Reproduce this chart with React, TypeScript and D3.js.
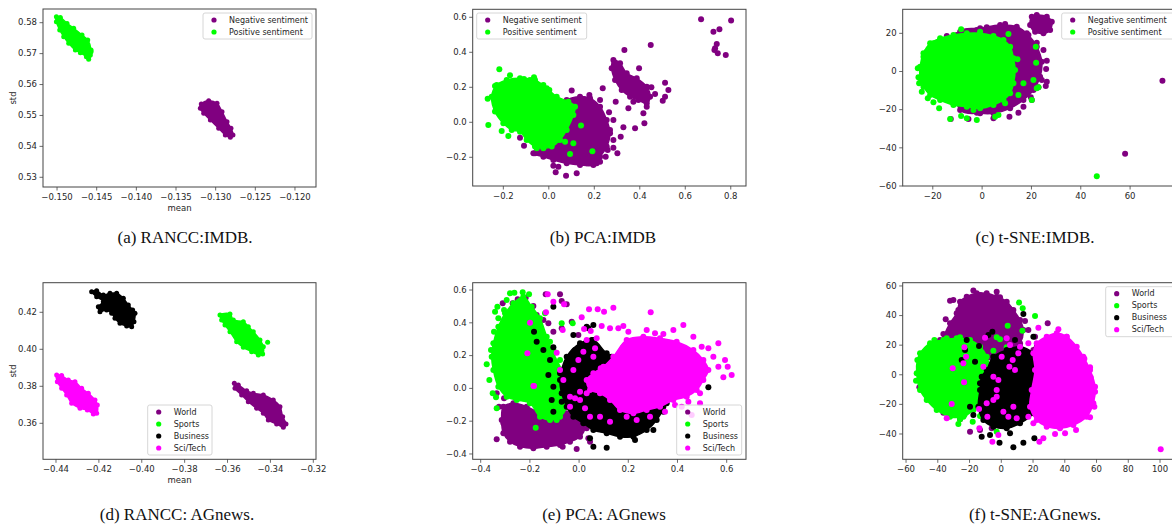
import React from 'react';
import * as d3 from 'd3';

type P = [number, number];

const imdbClasses = ['Negative sentiment', 'Positive sentiment'];
const agClasses = ['World', 'Sports', 'Business', 'Sci/Tech'];
const imdbColors = ['purple', 'lime'];
const agColors = ['purple', 'lime', 'black', 'magenta'];

const captions = [
  '(a) RANCC:IMDB.',
  '(b) PCA:IMDB',
  '(c) t-SNE:IMDB.',
  '(d) RANCC: AGnews.',
  '(e) PCA: AGnews',
  '(f) t-SNE:AGnews.',
];

// tick values
const aXTicks = [-0.15, -0.145, -0.14, -0.135, -0.13, -0.125, -0.12];
const aYTicks = [0.53, 0.54, 0.55, 0.56, 0.57, 0.58];
const bXTicks = [-0.2, 0, 0.2, 0.4, 0.6, 0.8];
const bYTicks = [-0.2, 0, 0.2, 0.4, 0.6];
const cXTicks = [-20, 0, 20, 40, 60];
const cYTicks = [-60, -40, -20, 0, 20];
const dXTicks = [-0.44, -0.42, -0.4, -0.38, -0.36, -0.34, -0.32];
const dYTicks = [0.36, 0.38, 0.4, 0.42];
const eXTicks = [-0.4, -0.2, 0, 0.2, 0.4, 0.6];
const eYTicks = [-0.4, -0.2, 0, 0.2, 0.4, 0.6];
const fXTicks = [-60, -40, -20, 0, 20, 40, 60, 80, 100];
const fYTicks = [-40, -20, 0, 20, 40, 60];

// (a) RANCC IMDB : (mean, std)
const aNegCore: P[] = [
  [-0.13181, 0.55371], [-0.13088, 0.55478], [-0.12983, 0.55392], [-0.1292, 0.55123],
  [-0.12857, 0.548], [-0.12807, 0.54584], [-0.12782, 0.54369], [-0.12815, 0.54293],
  [-0.12878, 0.54369], [-0.12962, 0.54584], [-0.13067, 0.54853], [-0.13151, 0.55069],
  [-0.13193, 0.55231],
];
const aNegPts: P[] = [[-0.12807, 0.54369], [-0.13172, 0.55306]];
const aPosCore: P[] = [
  [-0.15008, 0.58194], [-0.14958, 0.58172], [-0.14874, 0.57978], [-0.1479, 0.57817],
  [-0.14685, 0.57601], [-0.14613, 0.5744], [-0.14571, 0.57116], [-0.1458, 0.56955],
  [-0.14601, 0.56815], [-0.1463, 0.56901], [-0.14706, 0.5703], [-0.14769, 0.57116],
  [-0.14853, 0.57332], [-0.14916, 0.57547], [-0.14966, 0.57763], [-0.15008, 0.58032],
];
const aPosPts: P[] = [[-0.14992, 0.5814], [-0.14601, 0.56879], [-0.14571, 0.57063]];

// (b) PCA IMDB
const bNegCore: P[] = [
  [-0.068, -0.1771], [-0.0387, -0.139], [0.0199, 0.0514], [0.0786, 0.1276], [0.1372, 0.1467],
  [0.1812, 0.1371], [0.2252, 0.0895], [0.2545, 0.0133], [0.2692, -0.0629], [0.2545, -0.139],
  [0.2252, -0.1962], [0.1959, -0.2438], [0.1372, -0.2438], [0.0786, -0.2343], [0.0199, -0.2152],
  [-0.024, -0.1962],
];
const bNegArm: P[] = [
  [0.2765, 0.3086], [0.2839, 0.3562], [0.3132, 0.3371], [0.3425, 0.28], [0.3865, 0.2514],
  [0.4305, 0.2038], [0.4452, 0.1467], [0.4305, 0.1086], [0.3938, 0.1276], [0.3572, 0.1467],
  [0.3205, 0.1848], [0.2912, 0.2419],
];
const bNegPts: P[] = [
  [0.6695, 0.5886], [0.8015, 0.581], [0.7238, 0.5181], [0.7501, 0.5314], [0.7311, 0.4229],
  [0.7384, 0.4476], [0.7428, 0.3943], [0.778, 0.3848], [0.7282, 0.4133], [0.3323, 0.4133],
  [0.4481, 0.4419], [0.3968, 0.3086], [0.5111, 0.2267], [0.5258, 0.1848], [0.5111, 0.1467],
  [0.5009, 0.1238], [0.4672, 0.1619], [0.451, 0.2], [0.4202, -0.0057], [0.3792, -0.0343],
  [0.3279, -0.0286], [0.3161, -0.0819], [0.2941, 0.1181], [0.237, 0.1943], [0.1006, 0.181],
  [0.1783, 0.1562], [0.149, 0.1333], [0.2648, 0.0571], [0.2839, 0.0133], [0.2839, -0.1448],
  [0.3015, -0.1771], [0.2589, -0.1581], [0.2106, -0.2343], [0.1666, -0.2343], [0.0757, -0.3048],
  [0.0302, -0.2857], [0.0419, -0.2533], [0.0199, -0.2476], [-0.0607, -0.1771], [-0.1091, -0.1333],
  [-0.1267, -0.0876], [0.1226, -0.2914], [0.3718, 0.1181], [0.4158, 0.0514], [0.3499, 0.08],
  [0.4305, 0.0895], [0.3499, 0.2133], [0.1959, 0.08], [0.2252, 0.1276], [0.2839, -0.101],
  [0.2692, -0.0438], [0.2501, -0.1962], [0.2252, -0.2248], [0.1959, -0.2114],
];
const bPosCore: P[] = [
  [-0.2513, 0.1467], [-0.2293, 0.2133], [-0.1853, 0.2419], [-0.1267, 0.2514], [-0.0607, 0.2419],
  [-0.0094, 0.1943], [0.0346, 0.1467], [0.0859, 0.1181], [0.1152, 0.0895], [0.1079, 0.0419],
  [0.0786, -0.0438], [0.0493, -0.101], [0.0126, -0.139], [-0.024, -0.1486], [-0.0607, -0.139],
  [-0.0974, -0.101], [-0.1267, -0.0533], [-0.1633, -0.0438], [-0.2, -0.0057], [-0.2367, 0.061],
];
const bPosPts: P[] = [
  [-0.2689, 0.1352], [-0.266, -0.0152], [-0.2176, 0.3029], [-0.1707, 0.2686], [-0.1091, 0.2476],
  [-0.0651, 0.2571], [-0.024, 0.2133], [0.0023, 0.1848], [-0.2367, 0.2076], [-0.2073, -0.0495],
  [-0.178, -0.0781], [0.1416, -0.019], [0.0933, -0.181], [0.1915, -0.1657], [0.1079, -0.12],
  [0.0713, -0.1105], [-0.1487, 0.2362], [-0.0827, 0.2419], [0.0786, 0.0933], [0.1006, 0.061],
  [0.0346, -0.101], [-0.0533, -0.1486],
];

// (c) t-SNE IMDB
const cNegCore: P[] = [
  [-8.92, 20.87], [-0.81, 22.62], [7.3, 24.37], [14.05, 23.49], [18.78, 19.13], [22.16, 13.01],
  [24.19, 5.15], [23.51, -2.71], [20.81, -9.69], [16.76, -14.93], [11.35, -19.3], [4.59, -21.92],
  [-0.81, -21.92], [-8.92, -20.17],
];
const cNegTop: P[] = [
  [20.14, 28.73], [22.16, 29.61], [26.22, 28.73], [28.24, 26.11], [27.57, 21.75], [24.86, 20.0],
  [21.49, 20.87], [19.46, 24.37],
];
const cNegPts: P[] = [
  [73.11, -4.8], [57.97, -43.06], [26.22, 5.68], [25.95, 1.31], [18.78, 14.76], [18.11, 20],
  [13.78, 21.4], [9.32, 24.89], [4.59, 21.75], [-2.16, 21.75], [-5.14, 20.35], [-10.27, 19.13],
  [-14.32, 18.6], [-2.16, -21.57], [-5.54, -24.89], [-12.7, -24.89], [4.59, -24.54], [11.08, -23.67],
  [14.73, -21.57], [16.76, -18.43], [19.73, -13.54], [22.84, -8.3], [25.81, -7.6], [-23.78, 3.76],
  [22.16, 15.11], [15.68, 20.87], [24.86, 11.27], [20.81, 2.53], [20.14, 9.52], [24.19, -4.45],
  [26.22, -5.33], [1.89, 23.14], [6.62, 20.0], [12.7, -14.93], [20.14, -14.93],
];
const cPosCore: P[] = [
  [-25.14, 2.53], [-23.78, 9.52], [-21.08, 14.76], [-17.03, 17.38], [-11.62, 19.13], [-6.22, 20.0],
  [-0.81, 20.0], [4.59, 18.6], [8.65, 16.51], [11.35, 13.01], [12.7, 6.9], [13.38, 0.79],
  [12.7, -6.2], [11.35, -11.44], [8.65, -14.93], [4.59, -17.55], [-0.81, -19.3], [-6.22, -18.43],
  [-11.62, -17.55], [-17.03, -14.93], [-21.08, -12.31], [-23.78, -7.95], [-25.14, -3.58],
];
const cPosPts: P[] = [
  [-26.08, 1.66], [-25.81, -3.06], [-25.54, -6.2], [-24.46, -10.57], [-22.03, -14.06],
  [-19.73, -16.16], [-17.43, -19.3], [-12.97, -24.89], [-8.51, -23.32], [-6.22, -24.54],
  [-2.16, -25.41], [-3.51, -20.17], [5.27, -23.67], [6.62, -22.79], [9.32, -16.68], [14.73, -12.31],
  [20.14, -14.93], [16.76, -6.2], [20.81, -4.45], [22.16, -8.82], [22.84, -8.3], [21.89, 4.63],
  [21.76, 13.01], [14.32, 6.38], [10.68, 19.65], [-0.81, 20.87], [-8.51, 22.1], [-11.62, 18.25],
  [-19.73, 14.76], [-22.43, 10.39], [-23.78, 7.77], [46.49, -54.93],
];

// (d) RANCC AGnews
const dWorldCore: P[] = [
  [-0.35683, 0.38162], [-0.35497, 0.38072], [-0.35108, 0.37766], [-0.34797, 0.37622],
  [-0.34331, 0.37532], [-0.33865, 0.37261], [-0.33554, 0.36901], [-0.33429, 0.3636],
  [-0.33274, 0.35964], [-0.33398, 0.35784], [-0.33709, 0.35964], [-0.34098, 0.3618],
  [-0.34331, 0.36541], [-0.34642, 0.36811], [-0.35031, 0.37171], [-0.35341, 0.37532],
  [-0.35652, 0.37892],
];
const dSportsCore: P[] = [
  [-0.36352, 0.41856], [-0.35886, 0.4191], [-0.3573, 0.41586], [-0.35264, 0.41495],
  [-0.35031, 0.41225], [-0.34797, 0.40955], [-0.34487, 0.40505], [-0.34331, 0.40144],
  [-0.34362, 0.39748], [-0.34564, 0.39694], [-0.34875, 0.39874], [-0.35264, 0.40108],
  [-0.35575, 0.40414], [-0.35886, 0.40955], [-0.36119, 0.41315], [-0.36274, 0.41586],
];
const dSportsPts: P[] = [[-0.34129, 0.40378]];
const dBusinessCore: P[] = [
  [-0.42337, 0.43117], [-0.42103, 0.43171], [-0.41793, 0.42937], [-0.41482, 0.43027],
  [-0.41171, 0.43027], [-0.4086, 0.42757], [-0.40627, 0.42396], [-0.40425, 0.42126],
  [-0.40316, 0.41946], [-0.40363, 0.41495], [-0.40471, 0.41225], [-0.40704, 0.41261],
  [-0.41015, 0.41405], [-0.41249, 0.41676], [-0.41404, 0.41946], [-0.41637, 0.42126],
  [-0.41948, 0.42036], [-0.42026, 0.42306], [-0.41793, 0.42577], [-0.42103, 0.42847],
];
const dSciCore: P[] = [
  [-0.43969, 0.38613], [-0.43736, 0.38577], [-0.43425, 0.38342], [-0.43114, 0.38252],
  [-0.42803, 0.37892], [-0.42492, 0.37622], [-0.42181, 0.37261], [-0.42072, 0.36991],
  [-0.42103, 0.36541], [-0.42259, 0.36505], [-0.42539, 0.36721], [-0.42881, 0.36811],
  [-0.43269, 0.37081], [-0.43503, 0.37532], [-0.43736, 0.37892], [-0.43938, 0.38252],
];

// (e) PCA AGnews
const eWorldCore: P[] = [
  [-0.3079, -0.1114], [-0.2672, -0.0911], [-0.213, -0.1114], [-0.1588, -0.152], [-0.1046, -0.1724],
  [-0.0504, -0.152], [0.0038, -0.1724], [0.0241, -0.2333], [0.0038, -0.2943], [-0.0369, -0.3248],
  [-0.0775, -0.3451], [-0.1317, -0.3553], [-0.1859, -0.3654], [-0.2401, -0.3553], [-0.2808, -0.3248],
  [-0.3079, -0.274], [-0.3146, -0.1927],
];
const eWorldPts: P[] = [
  [-0.3106, 0.5187], [-0.2496, 0.5431], [-0.2171, 0.5533], [-0.1859, 0.5024], [-0.1724, 0.4476],
  [-0.1358, 0.5736], [-0.0775, 0.5736], [-0.0707, 0.5329], [-0.0504, 0.5126], [-0.1453, 0.4171],
  [-0.1927, 0.478], [-0.2902, 0.411], [-0.2266, 0.4577], [-0.2699, 0.5187], [-0.335, -0.0301],
  [-0.3051, -0.0606], [-0.3255, -0.1114], [-0.3079, -0.213], [-0.335, -0.3106], [-0.2509, -0.1114],
  [-0.0667, -0.3553], [-0.0098, -0.3695], [0.0377, -0.3045], [0.0444, -0.3248], [-0.0233, -0.213],
  [-0.1249, 0.3967], [-0.1046, 0.3459], [-0.0301, 0.4069], [-0.0707, 0.3663], [-0.003, 0.3256],
  [0.0173, 0.2504], [-0.1724, -0.1419], [0.0309, -0.2435], [-0.003, -0.1419], [-0.1859, -0.0199],
  [-0.0911, -0.0301], [-0.2875, -0.1825],
];
const eSportsCore: P[] = [
  [-0.3485, 0.2748], [-0.3282, 0.3764], [-0.3011, 0.4577], [-0.2672, 0.5187], [-0.2266, 0.5593],
  [-0.1927, 0.4984], [-0.1588, 0.4272], [-0.1317, 0.3154], [-0.1046, 0.2138], [-0.0707, 0.1122],
  [-0.0436, 0.0106], [-0.0504, -0.1114], [-0.0775, -0.1724], [-0.1182, -0.1927], [-0.1588, -0.1724],
  [-0.1995, -0.0911], [-0.2537, -0.0707], [-0.2943, -0.0504], [-0.3282, 0.0106], [-0.3485, 0.1122],
  [-0.3553, 0.1935],
];
const eSportsPts: P[] = [
  [-0.2808, 0.5797], [-0.2631, 0.5837], [-0.2293, 0.5858], [-0.2035, 0.5736], [-0.3322, 0.4984],
  [-0.3417, 0.4679], [-0.358, 0.2341], [-0.3756, 0.1467], [-0.3648, 0.0512], [-0.3512, -0.0301],
  [-0.3377, -0.0545], [-0.335, -0.1215], [-0.1764, -0.2394], [-0.0707, 0.3967], [-0.026, 0.3967],
  [-0.1385, 0.4577], [-0.1724, 0.3764], [-0.1182, 0.285], [-0.0775, 0.1732], [-0.0572, 0.0715],
  [-0.0572, -0.0504], [-0.3282, 0.4272], [-0.3051, 0.478], [-0.2943, 0.539], [-0.3458, 0.3459],
  [-0.0911, -0.1927], [-0.0233, -0.1419], [-0.0098, -0.0809], [-0.1046, 0.2341],
];
const eBusinessCore: P[] = [
  [-0.0775, 0.0512], [-0.0504, 0.1935], [0.0038, 0.2748], [0.058, 0.2951], [0.1122, 0.2138],
  [0.1664, 0.1732], [0.2206, 0.0919], [0.2748, 0.0106], [0.329, -0.0504], [0.3425, -0.1114],
  [0.3154, -0.1927], [0.2748, -0.2537], [0.2206, -0.2943], [0.1664, -0.2943], [0.1122, -0.274],
  [0.058, -0.2537], [0.0173, -0.213], [-0.0233, -0.1724], [-0.0504, -0.1114], [-0.0707, -0.0301],
];
const eBusinessPts: P[] = [
  [-0.1046, 0.4984], [-0.1832, 0.3459], [-0.1453, 0.2341], [-0.1182, 0.1732], [-0.0233, 0.3256],
  [0.0377, 0.3663], [0.0309, 0.3764], [0.0512, 0.2951], [-0.0775, 0.0919], [-0.0707, -0.0809],
  [0.0444, -0.3045], [0.1122, -0.3614], [0.058, -0.3553], [0.2274, -0.3146], [0.3019, -0.2537],
  [0.3425, -0.1419], [0.39, 0.2545], [0.4848, 0.1325], [0.5255, 0.0065], [0.207, 0.1935],
  [0.1325, 0.1935], [0.1799, 0.2504], [-0.1046, 0.0106], [-0.1249, 0.0817], [-0.1046, 0.2504],
  [-0.1724, 0.285], [-0.1114, -0.0707], [-0.1046, -0.1419], [0.2477, -0.1317], [0.3561, -0.0911],
  [0.058, 0.3866], [-0.0165, 0.2341],
];
const eSciCore: P[] = [
  [0.1393, 0.1935], [0.1935, 0.2951], [0.2612, 0.3154], [0.329, 0.3053], [0.3967, 0.285],
  [0.4645, 0.2341], [0.5051, 0.1732], [0.5255, 0.1122], [0.5051, 0.0512], [0.478, -0.0098],
  [0.4374, -0.0504], [0.3832, -0.0707], [0.329, -0.1114], [0.2748, -0.1317], [0.2206, -0.152],
  [0.1664, -0.1317], [0.1257, -0.0707], [0.0851, -0.0301], [0.0444, -0.0098], [0.0309, 0.0512],
  [0.058, 0.0919], [0.0986, 0.1325],
];
const eSciPts: P[] = [
  [-0.1276, 0.5736], [-0.1046, 0.5289], [-0.0612, 0.5126], [-0.1344, 0.4638], [-0.1995, 0.4008],
  [-0.2103, 0.2138], [-0.1832, 0.0146], [-0.0667, 0.3561], [-0.0911, 0.2179], [0.0106, 0.4333],
  [0.0404, 0.4821], [0.0756, 0.4821], [0.1014, 0.4679], [0.1393, 0.4923], [0.1799, 0.3805],
  [0.2003, 0.3459], [0.2911, 0.4638], [0.1257, 0.3663], [0.1596, 0.3663], [0.0919, 0.3805],
  [0.0201, 0.3622], [0.0472, 0.35], [0.0715, 0.3053], [0.0309, 0.2951], [0.058, 0.1935],
  [0.0878, 0.1224], [0.1352, 0.1224], [0.0919, 0.0106], [0.0309, -0.0301], [0.0038, -0.0707],
  [-0.0369, -0.0504], [0.0444, -0.1724], [0.0851, -0.1724], [0.1257, -0.2028], [0.1935, -0.1724],
  [0.2341, -0.1927], [0.2883, -0.1724], [0.3493, -0.1419], [0.39, -0.1012], [0.4442, -0.0809],
  [0.4916, -0.0301], [0.5661, 0.2748], [0.6041, 0.1325], [0.6203, 0.0817], [0.5864, 0.0675],
  [0.5932, 0.1732], [0.5458, 0.1935], [0.5255, 0.2443], [0.5661, 0.1325], [0.4916, -0.0911],
  [0.4577, -0.1622], [0.4171, -0.1114], [0.3832, 0.3561], [0.4238, 0.3866], [0.4645, 0.3154],
  [0.4984, 0.2545], [0.3425, 0.3317], [0.3087, 0.3358], [0.2748, 0.3561], [0.2409, 0.285],
  [0.0038, -0.0199], [-0.0369, -0.1114], [-0.064, 0.0512], [-0.0233, 0.1122], [-0.003, 0.1732],
  [0.0173, 0.224], [0.0648, 0.2443], [-0.1859, 0.0146], [-0.0775, 0.1122], [-0.0165, -0.0606],
  [0.0241, -0.1215], [0.1257, -0.0504], [0.1664, -0.0707],
];

// (f) t-SNE AGnews
const fWorldCore: P[] = [
  [-35.43, 25.77], [-32.28, 34.77], [-28.08, 41.53], [-25.98, 49.41], [-21.78, 52.79],
  [-15.49, 55.05], [-9.19, 55.05], [-2.89, 52.79], [3.41, 49.41], [7.61, 43.78], [11.81, 37.03],
  [13.91, 30.27], [11.81, 21.26], [5.51, 14.5], [-2.89, 10.0], [-13.39, 12.25], [-21.78, 19.01],
  [-28.08, 22.39],
];
const fWorldPts: P[] = [
  [-17.59, 56.85], [-13.39, 53.92], [-0.79, 52.34], [5.51, 44.23], [14.96, 36.35], [29.24, 34.77],
  [17.06, 30.27], [-35.01, 37.48], [-36.48, 27.57], [-31.86, 21.26], [-51.6, -8.47], [-45.51, -16.58],
  [-39.63, -13.65], [-36.48, -25.59], [-30.18, -26.04], [-25.98, -30.09], [-19.69, -38.42],
  [-13.39, -37.3], [-6.04, -36.17], [-46.98, 12.25], [-38.58, 23.51], [-21.78, 29.14],
  [-27.03, 43.78], [-30.18, 50.54], [21.26, 25.77], [16.01, 10.0], [20.21, 16.76], [-8.14, 43.78],
  [-2.89, 56.17], [-32.28, 50.09],
];
const fSportsCore: P[] = [
  [-51.18, 14.5], [-44.88, 21.26], [-36.48, 23.51], [-28.08, 24.64], [-19.69, 23.51],
  [-13.39, 19.01], [-9.19, 12.25], [-7.09, 3.24], [-7.09, -8.02], [-11.29, -17.03],
  [-17.59, -23.78], [-23.88, -28.29], [-32.28, -28.29], [-40.68, -23.78], [-46.98, -17.03],
  [-51.18, -10.27], [-53.28, 0.99], [-52.86, 10.0],
];
const fSportsPts: P[] = [
  [-53.7, -3.96], [-50.13, 4.37], [-46.98, 10.0], [-42.15, 23.51], [-34.38, 24.64], [-25.98, -30.09],
  [-27.03, -33.24], [-23.25, -27.16], [-30.18, -22.66], [-42.15, -19.73], [-36.48, -21.08],
  [-18.0, -31.67], [-13.39, -27.84], [-8.14, -26.04], [11.18, 48.74], [13.49, 44.91], [21.26, 39.73],
  [4.04, 33.2], [13.28, 29.82], [-2.89, 25.32], [-1.84, 12.25], [-4.99, 16.31], [3.41, 18.56],
  [-0.79, 23.96], [-20.1, 22.39], [-25.98, 25.32], [-2.89, -38.42], [-9.19, -26.04],
];
const fBusinessCore: P[] = [
  [-9.19, 3.24], [-4.99, 12.25], [3.41, 16.76], [11.81, 19.01], [20.21, 14.5], [24.41, 5.5],
  [25.46, -5.77], [23.36, -17.03], [20.21, -26.04], [11.81, -32.79], [3.41, -36.17], [-4.99, -35.05],
  [-11.29, -30.54], [-14.44, -21.53], [-13.39, -10.27], [-12.34, -1.26],
];
const fBusinessPts: P[] = [
  [-12.34, -41.8], [-7.09, -40.68], [-1.11, -45.86], [7.61, -49.01], [13.91, -45.86], [5.51, -39.55],
  [20.84, -42.93], [-17.59, -27.16], [-19.69, -21.53], [-5.62, 29.14], [-8.14, 26.89], [-21.78, 23.51],
  [-14.02, 19.46], [-22.83, 16.76], [8.66, 23.51], [13.91, 41.08], [47.09, 10.45], [50.66, -10.27],
  [22.31, 18.56], [-24.93, 10.0], [-16.54, 8.87], [-13.39, -5.77], [20.21, 25.77], [-0.79, 6.62],
];
const fSciCore: P[] = [
  [22.31, 21.26], [28.61, 25.77], [34.91, 28.02], [41.21, 25.77], [47.51, 19.01], [51.71, 12.25],
  [55.91, 3.24], [59.06, -8.02], [58.01, -19.28], [53.81, -28.29], [45.41, -33.92], [37.01, -36.17],
  [28.61, -35.05], [22.31, -30.54], [18.11, -21.53], [19.16, -10.27], [21.26, 3.24], [20.21, 14.5],
];
const fSciPts: P[] = [
  [100.42, -50.36], [23.36, 31.85], [35.96, 30.72], [41.21, 25.77], [46.46, 18.33], [52.34, 10.9],
  [55.91, 5.05], [56.33, -1.71], [59.06, -11.4], [58.64, -21.53], [55.91, -28.74], [47.09, -37.3],
  [40.16, -39.55], [33.86, -40.0], [26.51, -42.93], [23.99, -45.18], [9.71, -29.41], [4.46, -28.29],
  [-1.84, -40.68], [-5.62, -45.18], [-13.81, -36.17], [-8.77, -28.29], [-14.02, -23.11],
  [-9.19, -19.28], [-4.99, -17.03], [-2.89, -10.27], [-1.84, -3.51], [-4.99, -1.26], [-11.29, 5.5],
  [-10.24, 25.09], [-23.25, 18.56], [-22.2, 12.25], [-23.88, 7.75], [-30.6, 4.37], [-23.46, -5.09],
  [-34.38, -29.41], [-31.23, -19.73], [0.26, 12.25], [5.51, 20.14], [11.81, 19.01], [17.06, 21.26],
  [7.19, 10.0], [10.76, 14.5], [5.09, 5.5], [8.66, 3.24], [3.41, 24.64], [-2.89, -14.77],
  [1.32, -24.91], [7.61, -21.53], [17.06, -28.29], [20.21, -32.79],
];

type Series = { color: string; cores: P[][]; pts: P[] };
type PanelCfg = {
  box: [number, number, number, number];
  xDomain: [number, number];
  yDomain: [number, number];
  xTicks: number[];
  yTicks: number[];
  xFmt: string;
  yFmt: string;
  xLabel?: string;
  yLabel?: string;
  caption: string;
  capX: number;
  capY: number;
  legend: { x: number; y: number; w: number; labels: string[]; colors: string[] };
  series: Series[];
  r: number;
};

const panels: PanelCfg[] = [
  {
    box: [43, 9, 316, 187], xDomain: [-0.15177, -0.11735], yDomain: [0.52686, 0.58443],
    xTicks: aXTicks, yTicks: aYTicks, xFmt: '.3f', yFmt: '.2f', xLabel: 'mean', yLabel: 'std',
    caption: captions[0], capX: 185, capY: 243, r: 2.5,
    legend: { x: 203, y: 13, w: 109, labels: imdbClasses, colors: imdbColors },
    series: [
      { color: imdbColors[0], cores: [aNegCore], pts: aNegPts },
      { color: imdbColors[1], cores: [aPosCore], pts: aPosPts },
    ],
  },
  {
    box: [472.7, 9.3, 746, 186], xDomain: [-0.3347, 0.867], yDomain: [-0.364, 0.6457],
    xTicks: bXTicks, yTicks: bYTicks, xFmt: '.1f', yFmt: '.1f',
    caption: captions[1], capX: 603, capY: 243, r: 3,
    legend: { x: 476.7, y: 13, w: 110, labels: imdbClasses, colors: imdbColors },
    series: [
      { color: imdbColors[0], cores: [bNegCore, bNegArm], pts: bNegPts },
      { color: imdbColors[1], cores: [bPosCore], pts: bPosPts },
    ],
  },
  {
    box: [902.7, 9.3, 1174.5, 186], xDomain: [-32.2, 78.0], yDomain: [-60, 32.6],
    xTicks: cXTicks, yTicks: cYTicks, xFmt: 'd', yFmt: 'd',
    caption: captions[2], capX: 1035, capY: 243, r: 3,
    legend: { x: 1061.7, y: 13, w: 113, labels: imdbClasses, colors: imdbColors },
    series: [
      { color: imdbColors[0], cores: [cNegCore, cNegTop], pts: cNegPts },
      { color: imdbColors[1], cores: [cPosCore], pts: cPosPts },
    ],
  },
  {
    box: [43, 282.7, 316, 459.3], xDomain: [-0.44606, -0.31874], yDomain: [0.34054, 0.436],
    xTicks: dXTicks, yTicks: dYTicks, xFmt: '.2f', yFmt: '.2f', xLabel: 'mean', yLabel: 'std',
    caption: captions[3], capX: 177, capY: 520, r: 2.5,
    legend: { x: 147.7, y: 405, w: 64.3, labels: agClasses, colors: agColors },
    series: [
      { color: agColors[0], cores: [dWorldCore], pts: [] },
      { color: agColors[1], cores: [dSportsCore], pts: dSportsPts },
      { color: agColors[2], cores: [dBusinessCore], pts: [] },
      { color: agColors[3], cores: [dSciCore], pts: [] },
    ],
  },
  {
    box: [472.7, 282.7, 746, 459.3], xDomain: [-0.4325, 0.6785], yDomain: [-0.4325, 0.6447],
    xTicks: eXTicks, yTicks: eYTicks, xFmt: '.1f', yFmt: '.1f',
    caption: captions[4], capX: 604, capY: 520, r: 3,
    legend: { x: 676.7, y: 405, w: 65, labels: agClasses, colors: agColors },
    series: [
      { color: agColors[0], cores: [eWorldCore], pts: eWorldPts },
      { color: agColors[1], cores: [eSportsCore], pts: eSportsPts },
      { color: agColors[2], cores: [eBusinessCore], pts: eBusinessPts },
      { color: agColors[3], cores: [eSciCore], pts: eSciPts },
    ],
  },
  {
    box: [902.7, 282.7, 1174, 459.3], xDomain: [-62.1, 108.8], yDomain: [-57.1, 62.2],
    xTicks: fXTicks, yTicks: fYTicks, xFmt: 'd', yFmt: 'd',
    caption: captions[5], capX: 1035, capY: 520, r: 3,
    legend: { x: 1105.7, y: 286.7, w: 70, labels: agClasses, colors: agColors },
    series: [
      { color: agColors[0], cores: [fWorldCore], pts: fWorldPts },
      { color: agColors[1], cores: [fSportsCore], pts: fSportsPts },
      { color: agColors[2], cores: [fBusinessCore], pts: fBusinessPts },
      { color: agColors[3], cores: [fSciCore], pts: fSciPts },
    ],
  },
];

const tickFont = 'DejaVu Sans, sans-serif';
const ink = '#262626';

function Panel({ cfg, idx }: { cfg: PanelCfg; idx: number }) {
  const [x0, y0, x1, y1] = cfg.box;
  const x = d3.scaleLinear().domain(cfg.xDomain).range([x0, x1]);
  const y = d3.scaleLinear().domain(cfg.yDomain).range([y1, y0]);
  const blob = d3
    .line<P>()
    .x((d) => x(d[0]))
    .y((d) => y(d[1]))
    .curve(d3.curveCatmullRomClosed.alpha(0.5));
  const fx = d3.format(cfg.xFmt);
  const fy = d3.format(cfg.yFmt);
  const lg = cfg.legend;
  const lgH = lg.labels.length * 12 + 2;
  const clipId = `clip-${idx}`;

  return (
    <g>
      <defs>
        <clipPath id={clipId}>
          <rect x={x0} y={y0} width={x1 - x0} height={y1 - y0} />
        </clipPath>
      </defs>
      <g clipPath={`url(#${clipId})`}>
        {cfg.series.map((s, i) => (
          <g key={i} fill={s.color}>
            {s.cores.map((c, k) => (
              <path key={k} d={blob(c) || ''} stroke={s.color} strokeWidth={1.5} strokeLinejoin="round" />
            ))}
            {/* outline samples drawn as markers too, so the edges stay dotted */}
            {s.cores.flat().map((p, j) => (
              <circle key={'c' + j} cx={x(p[0])} cy={y(p[1])} r={cfg.r} />
            ))}
            {s.pts.map((p, j) => (
              <circle key={j} cx={x(p[0])} cy={y(p[1])} r={cfg.r} />
            ))}
          </g>
        ))}
      </g>
      <rect x={x0} y={y0} width={x1 - x0} height={y1 - y0} fill="none" stroke="#444" strokeWidth={1} />

      {cfg.xTicks.map((t) => (
        <g key={'x' + t} transform={`translate(${x(t)},${y1})`}>
          <line y2={3.5} stroke="#444" strokeWidth={0.8} />
          <text y={13} textAnchor="middle" fontSize={8.5} fontFamily={tickFont} fill={ink}>{fx(t)}</text>
        </g>
      ))}
      {cfg.yTicks.map((t) => (
        <g key={'y' + t} transform={`translate(${x0},${y(t)})`}>
          <line x2={-3.5} stroke="#444" strokeWidth={0.8} />
          <text x={-6} dy="0.32em" textAnchor="end" fontSize={8.5} fontFamily={tickFont} fill={ink}>{fy(t)}</text>
        </g>
      ))}
      {cfg.xLabel && (
        <text x={(x0 + x1) / 2} y={y1 + 24} textAnchor="middle" fontSize={8.5} fontFamily={tickFont} fill={ink}>
          {cfg.xLabel}
        </text>
      )}
      {cfg.yLabel && (
        <text transform={`translate(13,${(y0 + y1) / 2}) rotate(-90)`} textAnchor="middle" dy="0.32em"
          fontSize={8.5} fontFamily={tickFont} fill={ink}>
          {cfg.yLabel}
        </text>
      )}

      <rect x={lg.x} y={lg.y} width={lg.w} height={lgH} rx={2} fill="white" fillOpacity={0.8}
        stroke="#cccccc" strokeWidth={0.8} />
      {lg.labels.map((l, i) => (
        <g key={l} transform={`translate(${lg.x},${lg.y + 7 + i * 12})`}>
          <circle cx={11} cy={0} r={2.6} fill={lg.colors[i]} />
          <text x={26} dy="0.34em" fontSize={8} fontFamily={tickFont} fill={ink}>{l}</text>
        </g>
      ))}

      <text x={cfg.capX} y={cfg.capY} textAnchor="middle" fontSize={17}
        fontFamily="Liberation Serif, Times New Roman, serif" fill="#111">
        {cfg.caption}
      </text>
    </g>
  );
}

export default function App() {
  return (
    <svg width={1172} height={524} style={{ position: 'absolute', left: 0, top: 0, background: 'white' }}>
      <rect width={1172} height={524} fill="white" />
      {panels.map((p, i) => (
        <Panel key={i} cfg={p} idx={i} />
      ))}
    </svg>
  );
}
